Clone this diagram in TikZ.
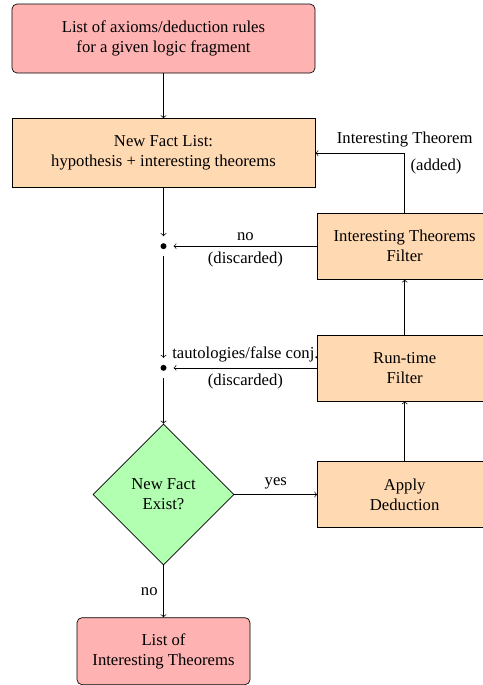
\documentclass[tikz,border=0pt]{standalone}
\usepackage{fontspec}
\setmainfont{Liberation Serif}
\usetikzlibrary{shapes.geometric}
\usetikzlibrary{positioning}
\usetikzlibrary{arrows}

\tikzset{
  startstop/.style={rectangle, rounded corners=3pt, draw, fill=red!30, align=center,
    minimum width=181.8pt, minimum height=41.4pt},
  process/.style={rectangle, draw, fill=orange!30, align=center,
    minimum width=181.8pt, minimum height=41.4pt},
  filterbox/.style={process, minimum width=104.4pt, minimum height=39.6pt},
  shortbox/.style={minimum width=103.8pt, minimum height=40.2pt},
  decision/.style={diamond, draw, fill=green!30, align=center, aspect=1, inner sep=0pt,
    minimum width=84.6pt, minimum height=84.6pt},
  dot/.style={circle, fill, inner sep=0pt, minimum size=3.6pt, outer sep=4.2pt}
}

\begin{document}
\begin{tikzpicture}[x=0.6pt, y=-0.6pt, >=to]
  \useasboundingbox (0,0) rectangle (483,685);

  \node[startstop]                          (axioms)  at (163.5,38.5) {List of axioms/deduction rules\\for a given logic fragment};
  \node[process, below=27pt of axioms]      (facts)   {New Fact List:\\hypothesis + interesting theorems};
  \node[decision]                           (exist)   at (163.5,494.5) {New Fact\\Exist?};
  \node[filterbox, right=49.8pt of exist]   (apply)   {Apply\\Deduction};
  \node[filterbox, above=36pt of apply]     (runtime) {Run-time\\Filter};
  \node[filterbox, above=33pt of runtime]   (itf)     {Interesting Theorems\\Filter};
  \node[startstop, shortbox, below=31.2pt of exist] (result) {List of\\Interesting Theorems};
  \node[dot] (d1) at (facts |- itf) {};
  \node[dot] (d2) at (facts |- runtime) {};

  \draw[->] (axioms) -- (facts);
  \draw[->] (facts) -- (d1);
  \draw[->] (d1) -- (d2);
  \draw[->] (d2) -- (exist);
  \draw[->] (exist) -- node[above] {yes} (apply);
  \draw[->] (exist) -- node[left] {no} (result);
  \draw[->] (apply) -- (runtime);
  \draw[->] (runtime) -- (itf);
  \draw[->] (runtime) -- node[above] {tautologies/false conj.} node[below] {(discarded)} (d2);
  \draw[->] (itf) -- node[above] {no} node[below] {(discarded)} (d1);
  \draw[->] (itf) |- node[pos=0.5, above] {Interesting Theorem} node[pos=0.5, below right] {(added)} (facts);
\end{tikzpicture}
\end{document}
